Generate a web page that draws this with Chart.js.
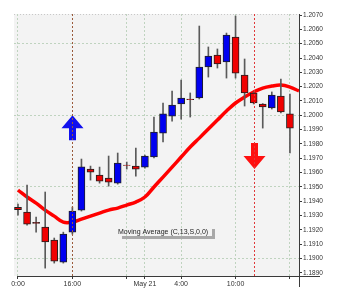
<!DOCTYPE html>
<html>
<head>
<meta charset="utf-8">
<script src="https://cdn.jsdelivr.net/npm/chart.js@4.4.1/dist/chart.umd.min.js"></script>
<style>
  html, body { margin: 0; padding: 0; background: #ffffff; }
  #wrap { width: 341px; height: 297px; position: relative; }
</style>
</head>
<body>
<div id="wrap"><canvas id="priceChart"></canvas></div>
<script>
// Candle data
const opens  = [1.19358, 1.19325, 1.19253, 1.19220, 1.19130, 1.18976, 1.19185, 1.19339, 1.19625, 1.19583,
                1.19562, 1.19527, 1.19653, 1.19646, 1.19639, 1.19709, 1.19876, 1.19995, 1.20079, 1.20114,
                1.20121, 1.20337, 1.20421, 1.20372, 1.20546, 1.20281, 1.20156, 1.20079, 1.20051, 1.20135, 1.20010];
const closes = [1.19341, 1.19241, 1.19245, 1.19116, 1.18983, 1.19171, 1.19332, 1.19640, 1.19604, 1.19541,
                1.19534, 1.19667, 1.19650, 1.19625, 1.19716, 1.19883, 1.20010, 1.20072, 1.20121, 1.20110,
                1.20337, 1.20414, 1.20358, 1.20560, 1.20295, 1.20156, 1.20086, 1.20058, 1.20142, 1.20023, 1.19911];
const highs  = [1.19381, 1.19513, 1.19290, 1.19465, 1.19144, 1.19185, 1.19360, 1.19695, 1.19646, 1.19639,
                1.19716, 1.19737, 1.19674, 1.19772, 1.19723, 1.19988, 1.20086, 1.20170, 1.20246, 1.20156,
                1.20623, 1.20477, 1.20463, 1.20574, 1.20693, 1.20393, 1.20163, 1.20082, 1.20163, 1.20253, 1.20149];
const lows   = [1.19304, 1.19234, 1.19185, 1.18934, 1.18969, 1.18969, 1.19171, 1.19332, 1.19548, 1.19527,
                1.19506, 1.19520, 1.19625, 1.19576, 1.19632, 1.19702, 1.19814, 1.19960, 1.19974, 1.19988,
                1.20114, 1.20267, 1.20330, 1.20260, 1.20260, 1.20065, 1.20079, 1.19911, 1.20044, 1.20016, 1.19737];

// Moving average (one point past the last candle, up to the axis)
const movingAvg = [1.19478, 1.19430, 1.19388, 1.19339, 1.19297, 1.19255, 1.19255, 1.19276, 1.19297, 1.19318,
                   1.19339, 1.19353, 1.19374, 1.19395, 1.19430, 1.19500, 1.19569, 1.19639, 1.19709, 1.19779,
                   1.19841, 1.19904, 1.19967, 1.20030, 1.20086, 1.20128, 1.20163, 1.20190, 1.20204, 1.20211,
                   1.20197, 1.20170];
const maLabel = 'Moving Average (C,13,S,0,0)';

// Time axis
const xTickIndex = [0, 6, 12, 14, 18, 24, 30];
const xTickText  = ['0:00', '16:00', '', 'May 21', '4:00', '10:00', ''];

// Price axis
const priceTicks = [1.1890, 1.1900, 1.1910, 1.1920, 1.1930, 1.1940, 1.1950, 1.1960, 1.1970, 1.1980,
                    1.1990, 1.2000, 1.2010, 1.2020, 1.2030, 1.2040, 1.2050, 1.2060, 1.2070];

// Buy / sell signals: candle index, arrow start price, arrow tip price
const signalIndex = [6, 26];
const signalFrom  = [1.19827, 1.19807];
const signalTo    = [1.20000, 1.19625];
const signalColor = ['#1010ee', '#ff1010'];
const signalLine  = ['#9a5a3a', '#e03838'];

const FONT = "'Liberation Sans', Arial, sans-serif";

const bodies = opens.map((o, i) => ({ x: i, y: [o, closes[i]] }));
const wicks = lows.map((l, i) => ({ x: i, y: [l, highs[i]] }));
const maPoints = movingAvg.map((v, i) => ({ x: i, y: v }));
const bodyColors = opens.map((o, i) => closes[i] >= o ? '#0000f0' : '#f00000');

const chartDecor = {
  id: 'chartDecor',
  beforeDraw(chart) {
    const { ctx, chartArea: a } = chart;
    ctx.save();
    ctx.fillStyle = '#f3f3f3';
    ctx.fillRect(a.left, a.top, a.right - a.left, a.bottom - a.top);
    // dotted top border
    ctx.strokeStyle = '#c8c8c8';
    ctx.setLineDash([1, 2]);
    ctx.beginPath();
    ctx.moveTo(a.left, a.top + 0.5);
    ctx.lineTo(a.right, a.top + 0.5);
    ctx.stroke();
    ctx.restore();
  },
  afterDatasetsDraw(chart) {
    const { ctx, chartArea: a } = chart;
    const xs = chart.scales.x, ys = chart.scales.y;
    ctx.save();
    // signal arrows
    signalIndex.forEach((idx, k) => {
      const cx = Math.round(xs.getPixelForValue(idx)) + 0.5;
      const y0 = ys.getPixelForValue(signalFrom[k]);
      const y1 = ys.getPixelForValue(signalTo[k]);
      const dir = y1 < y0 ? -1 : 1;
      const headLen = 13, headHalf = 11, shaftHalf = 3.5;
      const yh = y1 - dir * headLen;
      ctx.fillStyle = signalColor[k];
      ctx.beginPath();
      ctx.moveTo(cx - shaftHalf, y0);
      ctx.lineTo(cx + shaftHalf, y0);
      ctx.lineTo(cx + shaftHalf, yh);
      ctx.lineTo(cx + headHalf, yh);
      ctx.lineTo(cx, y1);
      ctx.lineTo(cx - headHalf, yh);
      ctx.lineTo(cx - shaftHalf, yh);
      ctx.closePath();
      ctx.fill();
    });
    // signal lines
    ctx.lineWidth = 1;
    ctx.setLineDash([2, 2]);
    signalIndex.forEach((idx, k) => {
      const px = Math.round(xs.getPixelForValue(idx)) + 0.5;
      ctx.strokeStyle = signalLine[k];
      ctx.beginPath();
      ctx.moveTo(px, a.top);
      ctx.lineTo(px, a.bottom);
      ctx.stroke();
    });
    ctx.setLineDash([]);
    // moving average label with shadow
    const lx = a.left + 104, ly = a.top + 218;
    ctx.fillStyle = '#a8a8a8';
    ctx.fillRect(lx + 4, ly + 4, 93, 3);
    ctx.fillRect(lx + 94, ly - 3, 3, 10);
    ctx.fillStyle = '#222222';
    ctx.font = '7px ' + FONT;
    ctx.textBaseline = 'middle';
    ctx.fillText(maLabel, lx, ly);
    ctx.restore();
  },
  afterDraw(chart) {
    const { ctx, chartArea: a } = chart;
    ctx.save();
    ctx.strokeStyle = '#3a3a3a';
    ctx.lineWidth = 1;
    ctx.beginPath();
    ctx.moveTo(a.left + 3, a.bottom + 0.5);
    ctx.lineTo(a.right + 21, a.bottom + 0.5);
    ctx.moveTo(a.right + 0.5, a.top);
    ctx.lineTo(a.right + 0.5, a.bottom + 11);
    ctx.stroke();
    ctx.restore();
  }
};

new Chart(document.getElementById('priceChart'), {
  type: 'bar',
  data: {
    datasets: [
      {
        label: 'Body',
        data: bodies,
        backgroundColor: bodyColors,
        borderColor: '#202020',
        borderWidth: 1,
        borderSkipped: false,
        barThickness: 7,
        grouped: false,
        order: 0
      },
      {
        label: 'Wick',
        data: wicks,
        backgroundColor: '#5a5a5a',
        borderWidth: 0,
        barThickness: 1,
        grouped: false,
        order: 1
      },
      {
        type: 'line',
        label: 'Moving Average',
        data: maPoints,
        borderColor: '#ff0000',
        borderWidth: 3.5,
        pointRadius: 0,
        tension: 0.4,
        fill: false,
        order: 2
      }
    ]
  },
  options: {
    responsive: true,
    maintainAspectRatio: false,
    animation: false,
    layout: { padding: { left: 14, top: 14, right: 0, bottom: 0 } },
    plugins: {
      legend: { display: false },
      tooltip: { enabled: false }
    },
    scales: {
      x: {
        type: 'linear',
        min: -0.44,
        max: 31,
        offset: false,
        border: { display: false, dash: [2, 2] },
        grid: {
          offset: false,
          color: '#bfd3bf',
          tickColor: '#3a3a3a',
          tickLength: 3
        },
        ticks: {
          autoSkip: false,
          maxRotation: 0,
          padding: 1,
          color: '#333333',
          font: { family: FONT, size: 7 },
          callback: function(value) {
            const k = xTickIndex.indexOf(value);
            return k >= 0 ? xTickText[k] : '';
          }
        },
        afterBuildTicks: function(scale) {
          scale.ticks = xTickIndex.map(v => ({ value: v }));
        },
        afterFit: function(scale) { scale.height = 21; }
      },
      y: {
        type: 'linear',
        position: 'right',
        min: 1.18879,
        max: 1.20707,
        border: { display: false, dash: [2, 2] },
        grid: {
          color: function(ctx) {
            const v = Math.round(ctx.tick.value * 10000);
            return v % 50 === 0 ? '#bfd3bf' : 'rgba(0,0,0,0)';
          },
          tickColor: '#3a3a3a',
          tickLength: 3
        },
        ticks: {
          padding: 1,
          color: '#333333',
          font: { family: FONT, size: 6.5 },
          callback: function(value) { return value.toFixed(4); }
        },
        afterBuildTicks: function(scale) {
          scale.ticks = priceTicks.map(v => ({ value: v }));
        },
        afterFit: function(scale) { scale.width = 42; }
      }
    }
  },
  plugins: [chartDecor]
});
</script>
</body>
</html>
